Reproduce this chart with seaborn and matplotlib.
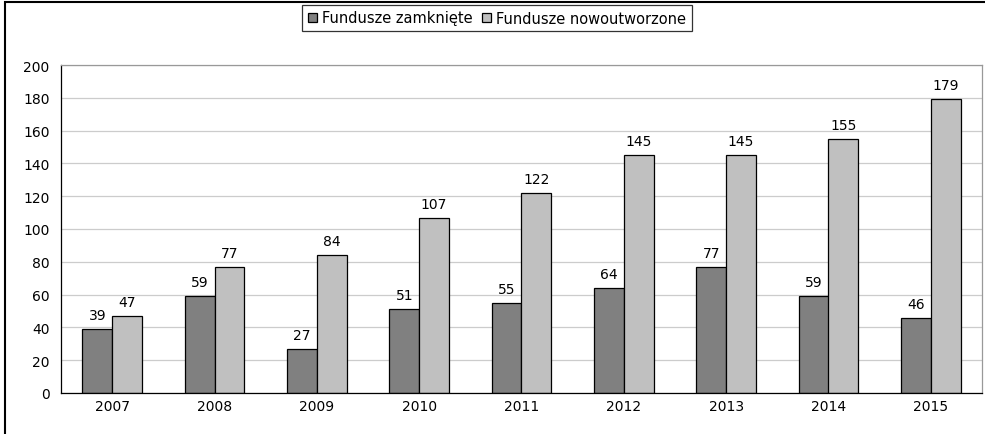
import matplotlib
matplotlib.use("Agg")
import matplotlib.pyplot as plt
from matplotlib.patches import Rectangle
import seaborn as sns
import pandas as pd

years = ["2007", "2008", "2009", "2010", "2011", "2012", "2013", "2014", "2015"]
closed = [39, 59, 27, 51, 55, 64, 77, 59, 46]
opened = [47, 77, 84, 107, 122, 145, 145, 155, 179]
series = ["Fundusze zamknięte", "Fundusze nowoutworzone"]

df = pd.DataFrame({
    "year": years * 2,
    "value": closed + opened,
    "series": [series[0]] * len(years) + [series[1]] * len(years),
})

sns.set_style("white")
plt.rcParams["font.family"] = ["DejaVu Sans"]
plt.rcParams["font.size"] = 10
plt.rcParams["text.color"] = "black"
plt.rcParams["xtick.color"] = "black"
plt.rcParams["ytick.color"] = "black"

fig = plt.figure(figsize=(9.85, 4.35), dpi=100)
ax = fig.add_axes([61 / 985, 1 - 394 / 435, 921 / 985, 328 / 435])

sns.barplot(data=df, x="year", y="value", hue="series", order=years,
            hue_order=series, palette=["#808080", "#c0c0c0"], width=0.58,
            edgecolor="black", linewidth=0.9, saturation=1, ax=ax)

for cont in ax.containers:
    ax.bar_label(cont, padding=5, fontsize=10, color="black")

ax.set_xlim(-0.5, len(years) - 0.5)
ax.set_ylim(0, 200)
ax.set_yticks(range(0, 201, 20))
ax.yaxis.grid(True, color="#cccccc", linewidth=0.9)
ax.set_axisbelow(True)
ax.set_xlabel("")
ax.set_ylabel("")

# ticks between groups, labels in the middle
ax.set_xticks([i - 0.5 for i in range(len(years) + 1)])
ax.set_xticklabels([])
ax.set_xticks(range(len(years)), minor=True)
ax.set_xticklabels(years, minor=True)
ax.tick_params(axis="x", which="major", direction="out", length=4.3, color="black", width=0.8)
ax.tick_params(axis="x", which="minor", length=0, pad=4)
ax.tick_params(axis="y", direction="out", length=4.3, color="black", width=0.8, pad=4)

for side in ["top", "right"]:
    ax.spines[side].set_color("#999999")
    ax.spines[side].set_linewidth(0.9)
for side in ["left", "bottom"]:
    ax.spines[side].set_color("black")
    ax.spines[side].set_linewidth(0.9)

ax.legend_.remove()
handles, labels = ax.get_legend_handles_labels()
leg = fig.legend(handles, labels, loc="center", ncol=2,
                 bbox_to_anchor=(497 / 985, 1 - 19 / 435), frameon=True,
                 fancybox=False, edgecolor="black", fontsize=10.5,
                 handlelength=0.65, handleheight=0.65, handletextpad=0.35,
                 columnspacing=0.6, borderpad=0.4, borderaxespad=0)
leg.get_frame().set_linewidth(0.9)

# outer chart frame (cut off at the right and bottom)
fig.patches.append(Rectangle((5 / 985, -0.1), 1.2, 1.1 - 3 / 435,
                             transform=fig.transFigure, fill=False,
                             edgecolor="black", linewidth=1.5))

fig.savefig("out.png", dpi=100)
